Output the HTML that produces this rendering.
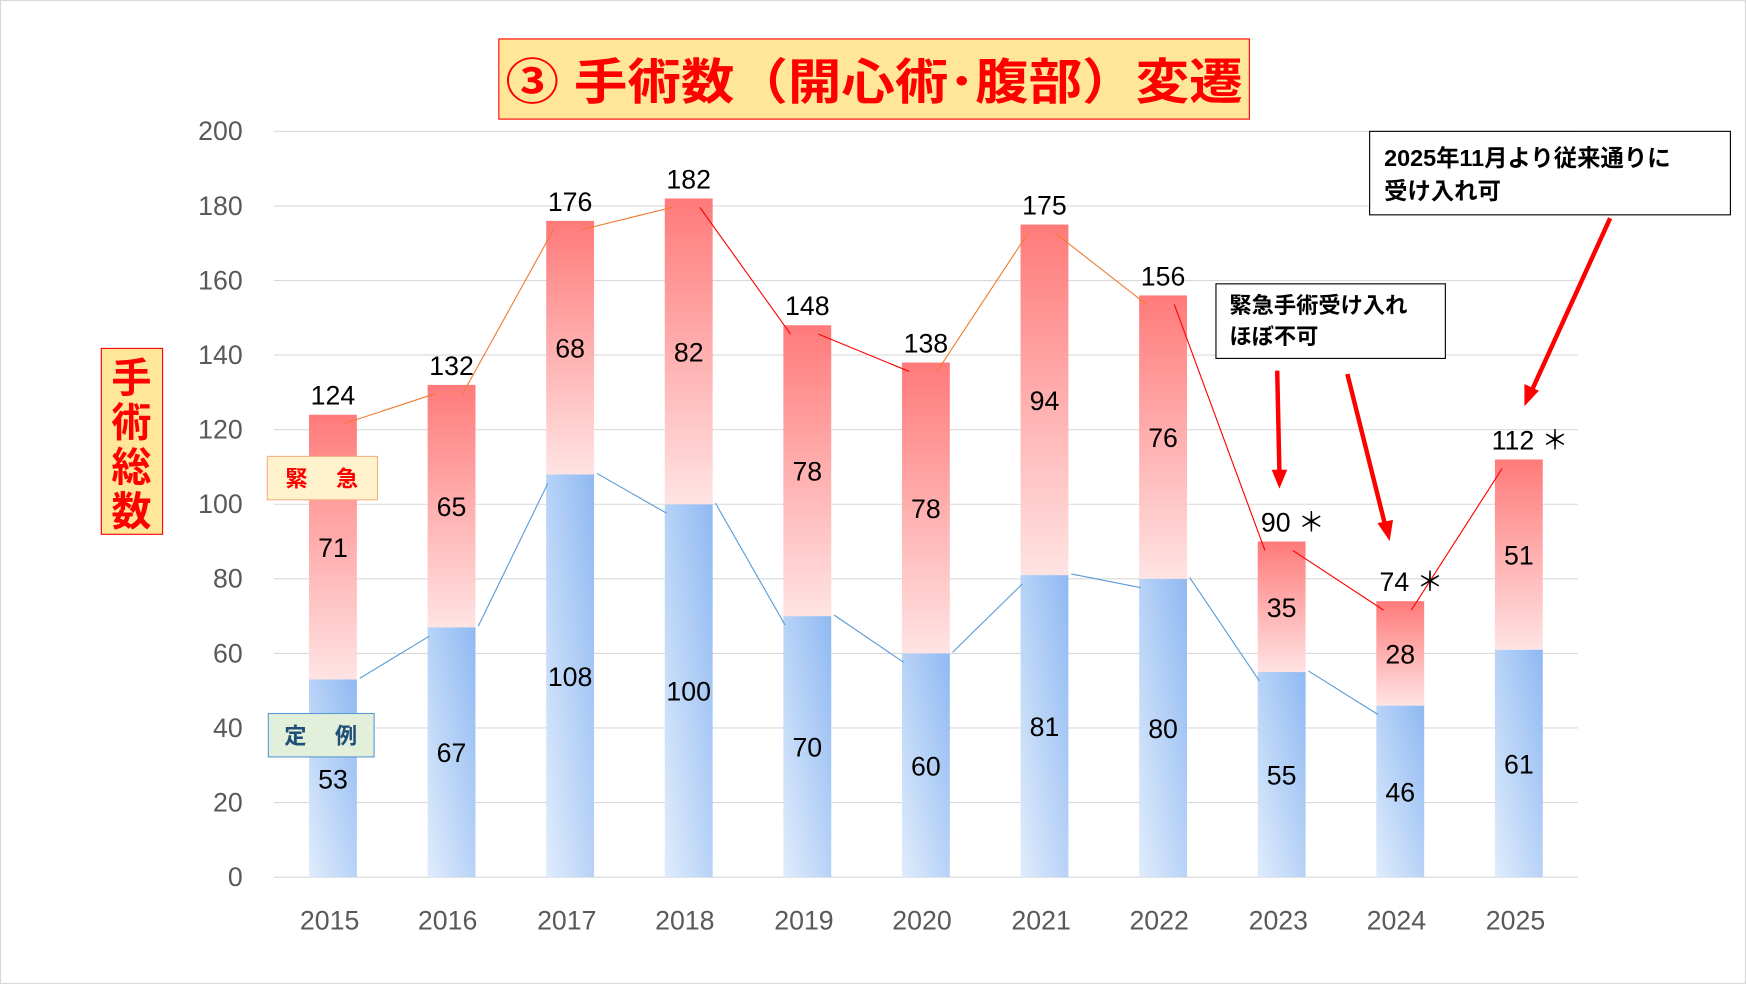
<!DOCTYPE html>
<html><head><meta charset="utf-8"><style>
html,body{margin:0;padding:0;background:#fff;}
svg{display:block;}
text{font-family:"Liberation Sans","Noto Sans CJK JP",sans-serif;}
</style></head><body>
<svg width="1746" height="984" viewBox="0 0 1568 884" preserveAspectRatio="none" xmlns="http://www.w3.org/2000/svg">
<defs>
<linearGradient id="rg" x1="0" y1="0" x2="0" y2="1"><stop offset="0" stop-color="#ff7a7a"/><stop offset="1" stop-color="#ffe3e3"/></linearGradient>
<linearGradient id="bg" x1="0" y1="1" x2="1" y2="0"><stop offset="0" stop-color="#e0ecfc"/><stop offset="1" stop-color="#8fb9f2"/></linearGradient>
</defs>
<rect x="0.5" y="0.5" width="1567" height="883" fill="#fff" stroke="#d9d9d9"/>
<g stroke="#d9d9d9" stroke-width="1">
<line x1="246" x2="1417" y1="118" y2="118"/><line x1="246" x2="1417" y1="185" y2="185"/><line x1="246" x2="1417" y1="252" y2="252"/><line x1="246" x2="1417" y1="319" y2="319"/><line x1="246" x2="1417" y1="386" y2="386"/><line x1="246" x2="1417" y1="453" y2="453"/><line x1="246" x2="1417" y1="520" y2="520"/><line x1="246" x2="1417" y1="587" y2="587"/><line x1="246" x2="1417" y1="654" y2="654"/><line x1="246" x2="1417" y1="721" y2="721"/><line x1="246" x2="1417" y1="788" y2="788"/>
</g>
<g font-size="24" fill="#595959" text-anchor="end">
<text x="218" y="126">200</text><text x="218" y="193">180</text><text x="218" y="260">160</text><text x="218" y="327">140</text><text x="218" y="394">120</text><text x="218" y="461">100</text><text x="218" y="528">80</text><text x="218" y="595">60</text><text x="218" y="662">40</text><text x="218" y="729">20</text><text x="218" y="796">0</text>
</g>
<g font-size="24" fill="#595959" text-anchor="middle">
<text x="296" y="835">2015</text><text x="402" y="835">2016</text><text x="509" y="835">2017</text><text x="615" y="835">2018</text><text x="722" y="835">2019</text><text x="828" y="835">2020</text><text x="935" y="835">2021</text><text x="1041" y="835">2022</text><text x="1148" y="835">2023</text><text x="1254" y="835">2024</text><text x="1361" y="835">2025</text>
</g>
<g id="bars"></g>
<g id="lines" fill="none"></g>
<g id="labels" font-size="24" fill="#000" text-anchor="middle"></g>
<rect x="448" y="35" width="674" height="72" fill="#ffe699" stroke="#ff0000" stroke-width="1"/>
<text x="454" y="89" font-size="44" font-weight="bold" fill="#ff0000" textLength="662" lengthAdjust="spacingAndGlyphs">③ 手術数（開心術･腹部）変遷</text>
<rect x="91" y="313" width="55" height="167" fill="#ffe699" stroke="#ff0000"/>
<g font-size="36" font-weight="bold" fill="#ff0000" text-anchor="middle">
<text x="118" y="352">手</text><text x="118" y="392">術</text><text x="118" y="432">総</text><text x="118" y="472">数</text>
</g>
<rect x="240" y="410" width="99" height="39" fill="#fff2cc" stroke="#f4b183"/>
<text x="289" y="437" font-size="20" font-weight="bold" fill="#ff0000" text-anchor="middle" xml:space="preserve">緊　 急</text>
<rect x="241" y="641" width="95" height="39" fill="#e2efda" stroke="#5b9bd5"/>
<text x="288" y="668" font-size="20" font-weight="bold" fill="#1f4e79" text-anchor="middle" xml:space="preserve">定　 例</text>
<rect x="1092" y="255" width="206" height="67" fill="#fff" stroke="#000"/>
<text x="1104" y="281" font-size="20" font-weight="bold" fill="#000">緊急手術受け入れ</text>
<text x="1104" y="309" font-size="20" font-weight="bold" fill="#000">ほぼ不可</text>
<rect x="1230" y="118" width="324" height="75" fill="#fff" stroke="#000"/>
<text x="1243" y="149" font-size="21" font-weight="bold" fill="#000">2025年11月より従来通りに</text>
<text x="1243" y="179" font-size="21" font-weight="bold" fill="#000">受け入れ可</text>
<g stroke="#ff0000" stroke-width="4" fill="#ff0000">
<line x1="1147" y1="333" x2="1149" y2="425"/><polygon points="1142,422 1156,422 1149,439" stroke="none"/>
<line x1="1210" y1="336" x2="1244" y2="472"/><polygon points="1237,470 1251,467 1248,486" stroke="none"/>
<line x1="1446" y1="196" x2="1376" y2="350"/><polygon points="1369,345 1382,351 1369,365" stroke="none"/>
</g>
<script>
var blue=[53,67,108,100,70,60,81,80,55,46,61],red=[71,65,68,82,78,78,94,76,35,28,51];
var star=[0,0,0,0,0,0,0,0,1,1,1];
var ns="http://www.w3.org/2000/svg";
function Y(v){return 788-v*3.35;}
function el(p,t,a,txt){var e=document.createElementNS(ns,t);for(var k in a)e.setAttribute(k,a[k]);if(txt!=null)e.textContent=txt;document.getElementById(p).appendChild(e);}
var lc=['#ed7d31','#ed7d31','#ed7d31','#ff0000','#ff0000','#ed7d31','#ed7d31','#ff0000','#ff0000','#ff0000'];
for(var i=0;i<11;i++){
 var c=299+i*106.5,tot=blue[i]+red[i];
 el('bars','rect',{x:c-21.5,y:Y(blue[i]),width:43,height:blue[i]*3.35,fill:'url(#bg)'});
 el('bars','rect',{x:c-21.5,y:Y(tot),width:43,height:red[i]*3.35,fill:'url(#rg)'});
 el('labels','text',{x:c,y:Y(blue[i]/2)+9},blue[i]);
 el('labels','text',{x:c,y:Y(blue[i]+red[i]/2)+9},red[i]);
 el('labels','text',{x:c+(star[i]?10:0),y:Y(tot)-9},tot+(star[i]?' ＊':''));
 if(i<10){
  var c2=c+106.5,t2=blue[i+1]+red[i+1];
  el('lines','line',{x1:c+10,y1:Y(tot)+8,x2:c2-15,y2:Y(t2)+8,stroke:lc[i],'stroke-width':1});
  if(i<9) el('lines','line',{x1:c+24,y1:Y(blue[i])-1,x2:c2-20,y2:Y(blue[i+1])+8,stroke:'#5b9bd5','stroke-width':1});
 }
}
</script>
</svg>
</body></html>
